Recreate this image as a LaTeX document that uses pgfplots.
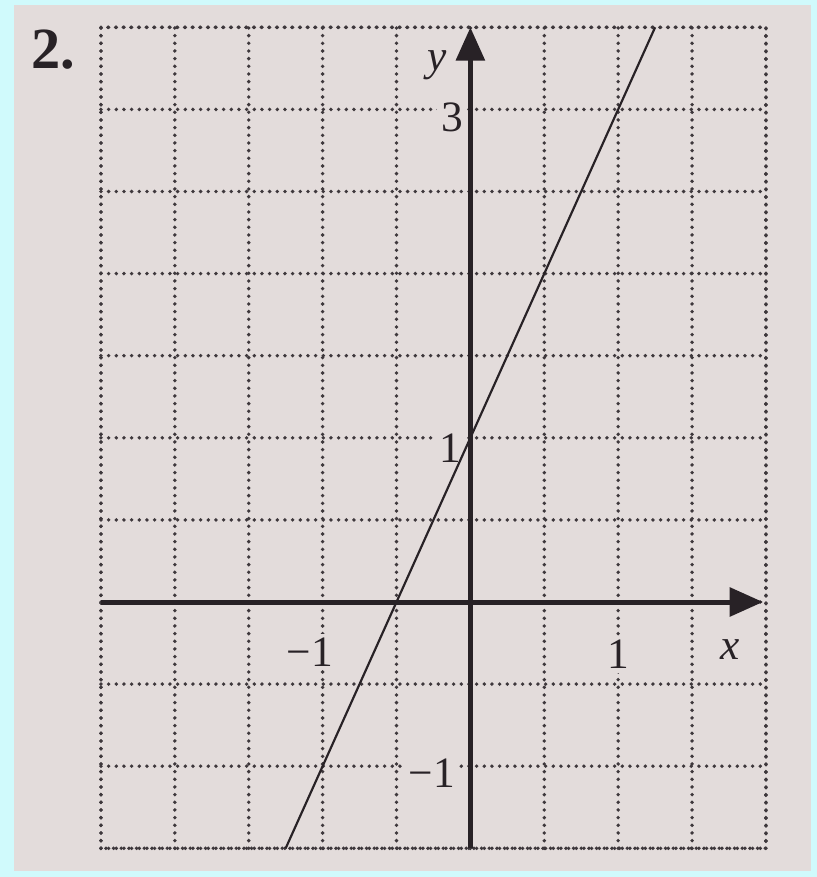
\documentclass[border=0pt]{standalone}
\usepackage{fontspec}
\setmainfont{Liberation Serif}
\usepackage{pgfplots}
\pgfplotsset{compat=1.18}
\usetikzlibrary{arrows.meta}
\definecolor{paper}{RGB}{227,220,219}
\definecolor{frame}{RGB}{208,250,252}
\definecolor{ink}{RGB}{40,34,38}
\definecolor{dots}{RGB}{62,56,60}
\tikzset{
  dotgrid/.style={dots, line width=1.15pt, line cap=round, dash pattern=on 0pt off 2.3pt},
  lbl/.style={font=\fontsize{13}{15}\selectfont, text=ink, fill=paper, inner sep=1.2pt},
}
\begin{document}
\begin{tikzpicture}
\begin{axis}[
    set layers,
    anchor=origin, at={(0,0)},
    x=44.333pt, y=49.26pt,
    xmin=-2.5, xmax=2, ymin=-1.5, ymax=3.5,
    axis line style={draw=none},
    major tick length=0pt,
    xtick={-2.5,-2,...,2}, ytick={-1.5,-1,...,3.5},
    xticklabels={}, yticklabels={},
    grid=major,
    major grid style={dotgrid},
    clip=false,
]
% page: cyan scan frame and paper
\begin{pgfonlayer}{axis background}
\fill[frame] (axis cs:-3.1832,-1.6748) rectangle (axis cs:2.3454,3.6663);
\fill[paper] (axis cs:-3.0885,-1.6383) rectangle (axis cs:2.3048,3.6358);
\end{pgfonlayer}
% frame of the grid
\draw[dotgrid] (axis cs:-2.5,-1.5) rectangle (axis cs:2,3.5);
% labels on the grid (they hide the dots below them)
\node[lbl] at (axis cs:-0.226,3.27) {\itshape y};
\node[lbl] at (axis cs:1.76,-0.29) {\itshape x};
\node[lbl] at (axis cs:-0.125,2.95) {3};
\node[lbl] at (axis cs:-0.138,0.938) {1};
\node[lbl] at (axis cs:-0.26,-1.04) {−1};
\node[lbl] at (axis cs:-1.086,-0.305) {−1};
\node[lbl] at (axis cs:1.0,-0.32) {1};
% axes
\draw[ink, line width=1.5pt, -{Triangle[length=10pt,width=8.5pt]}]
    (axis cs:-2.5,0) -- (axis cs:1.98,0);
\draw[ink, line width=1.5pt, -{Triangle[length=10pt,width=8.5pt]}]
    (axis cs:0,-1.5) -- (axis cs:0,3.5);
% the line y = 2x + 1
\addplot[ink, line width=0.65pt] coordinates {(-1.25,-1.5) (1.25,3.5)};
\node[text=ink, font=\fontsize{17.5}{20}\selectfont\bfseries] at (axis cs:-2.824,3.362) {2.};
\end{axis}
\end{tikzpicture}
\end{document}
